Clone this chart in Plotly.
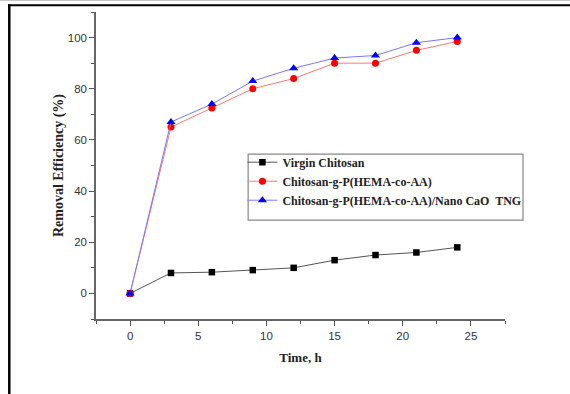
import plotly.graph_objects as go

time_h = [0, 3, 6, 9, 12, 15, 18, 21, 24]
virgin = [0, 8, 8.3, 9.1, 10, 13, 15, 16, 18]
graft = [0, 65, 72.5, 80, 84, 90, 90, 95, 98.5]
nano = [0, 67, 74, 83, 88, 92, 93, 98, 100]

names = ["Virgin Chitosan", "Chitosan-g-P(HEMA-co-AA)", "Chitosan-g-P(HEMA-co-AA)/Nano CaO  TNG"]

fig = go.Figure()
fig.add_trace(go.Scatter(x=time_h, y=virgin, name=names[0], mode="lines+markers",
                         line=dict(color="#555555", width=1),
                         marker=dict(symbol="square", size=6.5, color="black")))
fig.add_trace(go.Scatter(x=time_h, y=graft, name=names[1], mode="lines+markers",
                         line=dict(color="#ff7777", width=1),
                         marker=dict(symbol="circle", size=7, color="red")))
fig.add_trace(go.Scatter(x=time_h, y=nano, name=names[2], mode="lines+markers",
                         line=dict(color="#7777ff", width=1),
                         marker=dict(symbol="triangle-up", size=8, color="blue")))

axis_common = dict(showline=True, linecolor="#666666", linewidth=1.5, ticks="outside",
                   ticklen=5, tickcolor="#555555", tickwidth=1, showgrid=False, zeroline=False,
                   tickfont=dict(family="Liberation Sans, Arial", size=11.5, color="#333333"))

fig.update_xaxes(range=[-2.5, 27.5], tick0=0, dtick=5,
                 minor=dict(ticks="outside", ticklen=3, dtick=2.5, tick0=0, tickcolor="#555555"),
                 title=dict(text="<b>Time, h</b>", standoff=12,
                            font=dict(family="Liberation Serif, Times New Roman", size=13, color="#222222")),
                 **axis_common)
fig.update_yaxes(range=[-10, 110], tick0=0, dtick=20,
                 minor=dict(ticks="outside", ticklen=3, dtick=10, tick0=0, tickcolor="#555555"),
                 title=dict(text="<b>Removal Efficiency (%)</b>", standoff=1,
                            font=dict(family="Liberation Serif, Times New Roman", size=14, color="#222222")),
                 **axis_common)

fig.update_layout(
    width=570, height=394,
    margin=dict(l=96, r=65, t=12, b=75),
    plot_bgcolor="white", paper_bgcolor="white",
    showlegend=True,
    legend=dict(x=0.358, y=0.558, xanchor="left", yanchor="top",
                bgcolor="rgba(0,0,0,0)", borderwidth=0,
                itemwidth=30, tracegroupgap=0,
                font=dict(family="Liberation Serif, Times New Roman", size=12, color="#222222")),
    shapes=[
        # legend box
        dict(type="rect", xref="paper", yref="paper", x0=0.372, x1=1.044, y0=0.322, y1=0.537,
             line=dict(color="#888888", width=1.2)),
        # page frame lines
        dict(type="line", xref="paper", yref="paper", x0=-0.212, x1=-0.212, y0=-0.27, y1=1.025,
             line=dict(color="black", width=2.5)),
        dict(type="line", xref="paper", yref="paper", x0=-0.215, x1=1.16, y0=1.022, y1=1.022,
             line=dict(color="black", width=2)),
        dict(type="line", xref="paper", yref="paper", x0=-0.25, x1=1.16, y0=1.038, y1=1.038,
             line=dict(color="#bbbbbb", width=1)),
    ],
)
fig.update_layout(legend_font_weight="bold")

fig.write_html("out.html")
